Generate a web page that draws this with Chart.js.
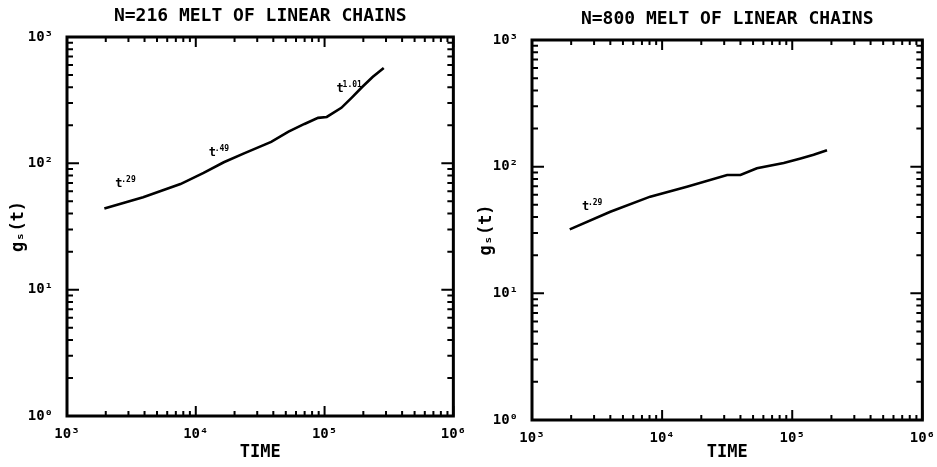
<!DOCTYPE html>
<html>
<head>
<meta charset="utf-8">
<script src="https://cdn.jsdelivr.net/npm/chart.js@4.4.1/dist/chart.umd.min.js"></script>
<style>
body { margin: 0; background: #fff; }
#wrap { position: relative; width: 937px; height: 467px; }
#left { position: absolute; left: 0; top: 0; }
#right { position: absolute; left: 468px; top: 0; }
</style>
</head>
<body>
<div id="wrap">
    <canvas id="left" width="468" height="467"></canvas>
    <canvas id="right" width="469" height="467"></canvas>
</div>
<script>
// N=216 melt, g_s(t) vs time
const leftTime = [1950, 3900, 7600, 11500, 16500, 23700, 38500, 52500, 69800, 89000, 104000, 135000, 162000, 195000, 236000, 288000];
const leftGs = [44, 54, 68.5, 84, 102, 120, 148, 178, 205, 229, 233, 275, 330, 400, 482, 569];

// N=800 melt
const rightTime = [1950, 4000, 8100, 15500, 31600, 40000, 53500, 86000, 116000, 146000, 185000];
const rightGs = [32, 44, 58, 69.5, 86, 86, 97, 107, 116, 124, 135];

// slope notes written on the curves (anchored in data units)
const leftNoteText = ['.29', '.49', '1.01'];
const leftNoteTime = [2370, 12600, 124000];
const leftNoteGs = [70, 123, 394];
const rightNoteText = ['.29'];
const rightNoteTime = [2420];
const rightNoteGs = [49];

const xRange = [1e3, 1e6];
const yRange = [1, 1e3];
const sup = ['\u2070', '\u00b9', '\u00b2', '\u00b3', '\u2074', '\u2075', '\u2076'];

const FONT = '"DejaVu Sans Mono", monospace';

function isDecade(v) {
    const e = Math.log10(v);
    return Math.abs(e - Math.round(e)) < 1e-9;
}

// 1..9 in every decade, so the minor marks show up
function logTicks(scale) {
    const lo = Math.round(Math.log10(scale.min));
    const hi = Math.round(Math.log10(scale.max));
    const ticks = [];
    for (let e = lo; e <= hi; e++) {
        for (let m = 1; m <= 9; m++) {
            if (e === hi && m > 1) break;
            ticks.push({ value: m * Math.pow(10, e), major: m === 1 });
        }
    }
    scale.ticks = ticks;
}

function tickLabel(value) {
    return isDecade(value) ? '10' + sup[Math.round(Math.log10(value))] : '';
}

// title, frame, inward tick marks and the t^a notes
const framePlugin = {
    id: 'frame',
    afterDraw(chart, args, opts) {
        const ctx = chart.ctx;
        const a = chart.chartArea;
        const xs = chart.scales.x;
        const ys = chart.scales.y;
        ctx.save();
        ctx.fillStyle = '#000';
        ctx.font = 'bold 18px ' + FONT;
        ctx.textAlign = 'center';
        ctx.textBaseline = 'alphabetic';
        ctx.fillText(opts.title, (a.left + a.right) / 2, opts.titleBase);

        ctx.strokeStyle = '#000';
        ctx.lineWidth = 2;
        ctx.beginPath();
        xs.ticks.forEach(tk => {
            const px = xs.getPixelForValue(tk.value);
            const len = isDecade(tk.value) ? 10 : 5;
            ctx.moveTo(px, a.bottom); ctx.lineTo(px, a.bottom - len);
            ctx.moveTo(px, a.top); ctx.lineTo(px, a.top + len);
        });
        ys.ticks.forEach(tk => {
            const py = ys.getPixelForValue(tk.value);
            const len = isDecade(tk.value) ? 12 : 6;
            ctx.moveTo(a.left, py); ctx.lineTo(a.left + len, py);
            ctx.moveTo(a.right, py); ctx.lineTo(a.right - len, py);
        });
        ctx.stroke();
        ctx.lineWidth = 3;
        ctx.strokeRect(a.left, a.top, a.right - a.left, a.bottom - a.top);

        ctx.textAlign = 'left';
        opts.text.forEach((txt, i) => {
            const px = xs.getPixelForValue(opts.time[i]);
            const py = ys.getPixelForValue(opts.gs[i]);
            ctx.font = 'bold 12px ' + FONT;
            ctx.fillText('t', px, py + 4);
            ctx.font = 'bold 8px ' + FONT;
            ctx.fillText(txt, px + 6, py - 1);
        });
        ctx.restore();
    }
};

function makeChart(id, title, time, gs, notes, box) {
    const points = time.map((t, i) => ({ x: t, y: gs[i] }));
    return new Chart(document.getElementById(id), {
        type: 'line',
        data: {
            datasets: [{
                data: points,
                borderColor: '#000',
                borderWidth: 2.6,
                pointRadius: 0,
                tension: 0,
                fill: false,
            }],
        },
        options: {
            responsive: false,
            animation: false,
            layout: { padding: { left: 0, right: box.right, top: box.top, bottom: 0 } },
            plugins: {
                legend: { display: false },
                tooltip: { enabled: false },
                title: { display: false },
                frame: Object.assign({ title: title, titleBase: box.titleBase }, notes),
            },
            scales: {
                x: {
                    type: 'logarithmic',
                    min: xRange[0],
                    max: xRange[1],
                    afterBuildTicks: logTicks,
                    afterFit: s => { s.height = box.xHeight; },
                    grid: { display: false },
                    border: { display: false },
                    ticks: {
                        autoSkip: false,
                        maxRotation: 0,
                        padding: 2,
                        color: '#000',
                        font: { family: FONT, size: 14, weight: 'bold' },
                        callback: tickLabel,
                    },
                    title: {
                        display: true,
                        text: 'TIME',
                        color: '#000',
                        font: { family: FONT, size: 17, weight: 'bold', lineHeight: 1.2 },
                        padding: { top: 0, bottom: 4 },
                    },
                },
                y: {
                    type: 'logarithmic',
                    min: yRange[0],
                    max: yRange[1],
                    afterBuildTicks: logTicks,
                    afterFit: s => { s.width = box.left; },
                    grid: { display: false },
                    border: { display: false },
                    ticks: {
                        autoSkip: false,
                        padding: 6,
                        color: '#000',
                        font: { family: FONT, size: 14, weight: 'bold' },
                        callback: tickLabel,
                    },
                    title: {
                        display: true,
                        text: 'g\u209b(t)',
                        color: '#000',
                        font: { family: FONT, size: 17, weight: 'bold', lineHeight: 1.2 },
                        padding: { top: 8, bottom: 0 },
                    },
                },
            },
        },
        plugins: [framePlugin],
    });
}

makeChart('left', 'N=216 MELT OF LINEAR CHAINS', leftTime, leftGs,
    { text: leftNoteText, time: leftNoteTime, gs: leftNoteGs },
    { left: 67, right: 13, top: 37, titleBase: 21, xHeight: 51 });

makeChart('right', 'N=800 MELT OF LINEAR CHAINS', rightTime, rightGs,
    { text: rightNoteText, time: rightNoteTime, gs: rightNoteGs },
    { left: 64, right: 9, top: 40, titleBase: 24, xHeight: 47 });
</script>
</body>
</html>
